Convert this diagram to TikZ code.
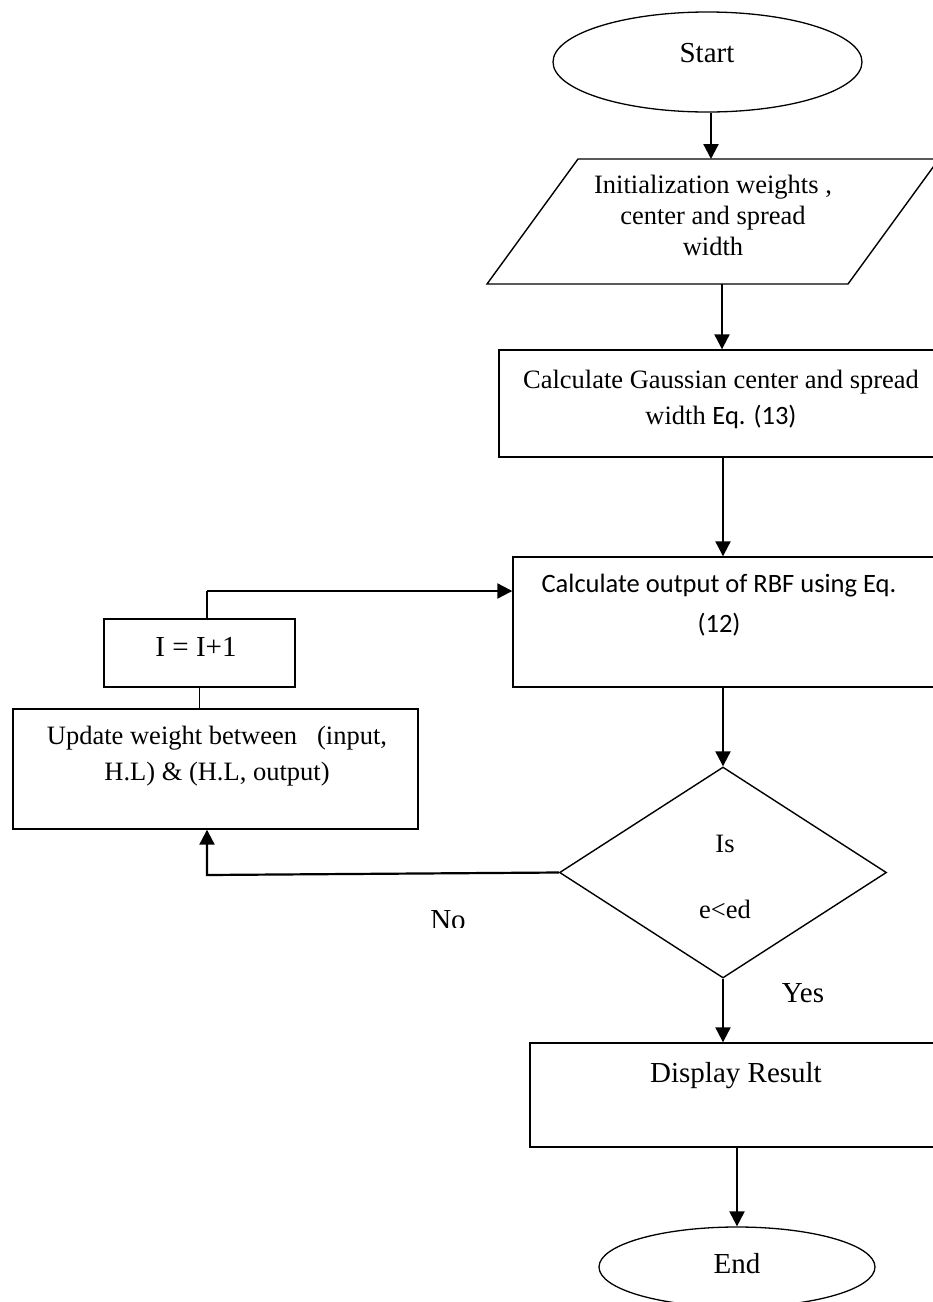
\documentclass[tikz,border=0pt]{standalone}
\usepackage{fontspec}
\setmainfont{Liberation Serif}
\newfontfamily\calibrifont{Carlito}
\usetikzlibrary{arrows.meta,shapes.geometric}
\begin{document}
\begin{tikzpicture}[x=1pt,y=-1pt,
  box/.style={draw,line width=1.4pt,inner sep=0pt},
  oval/.style={draw,ellipse,line width=1.3pt,inner sep=0pt},
  flow/.style={line width=2.2pt,-{Triangle[length=15pt,width=15pt]}},
  link/.style={line width=1.4pt},
  lbl/.style={inner sep=0pt,font=\fontsize{29}{34}\selectfont},
  txt/.style={inner sep=0pt,align=center,font=\fontsize{26.5}{31}\selectfont}]
\useasboundingbox (0,0) rectangle (933,1302);
\clip (0,0) rectangle (933,1302);

% terminals and process boxes
\node[oval,minimum width=309pt,minimum height=100pt] (start) at (707.5,62) {};
\coordinate (pTL) at (578,159);
\coordinate (pTR) at (939,159);
\coordinate (pBR) at (848,284);
\coordinate (pBL) at (487,284);
\draw[line width=1.4pt] (pTL) -- (pTR) -- (pBR) -- (pBL) -- cycle;
\coordinate (pB) at (722,284);
\node[box,minimum width=448pt,minimum height=107pt] (gauss) at (723,403.5) {};
\node[box,minimum width=432pt,minimum height=130pt] (rbf) at (729,622) {};
\node[box,minimum width=191pt,minimum height=68pt] (inc) at (199.5,653) {};
\node[box,minimum width=405pt,minimum height=120pt] (upd) at (215.5,769) {};
\node[box,diamond,minimum width=327pt,minimum height=211pt] (test) at (723,872.5) {};
\node[box,minimum width=414pt,minimum height=104pt] (disp) at (737,1095) {};
\node[oval,minimum width=276pt,minimum height=80pt] (end) at (737,1267) {};

% connectors
\coordinate (noturn) at (207,875);
\coordinate (loopup) at (207,591);
\draw[flow] ([xshift=3.5pt]start.south) -- ([xshift=3.5pt]start.south |- pTL);
\draw[flow] (pB) -- (pB |- gauss.north);
\draw[flow] (gauss.south) -- (gauss.south |- rbf.north);
\draw[flow] (rbf.south -| gauss.south) -- (test.north);
\draw[flow] (test.west) -- (noturn) -- (noturn |- upd.south);
\draw[link] (upd.north -| inc.south) -- (inc.south);
\draw[link] (inc.north -| loopup) -- (loopup);
\draw[flow] (loopup) -- (loopup -| rbf.west);
\draw[flow] (test.south) -- (test.south |- disp.north);
\draw[flow] (disp.south) -- (end.north);

% texts
\node[lbl,anchor=base] (tStart) at (707,62) {Start};
\node[txt] (tInit) at (713,215) {Initialization weights ,\\center and spread\\width};
\node[txt,font=\fontsize{26.5}{36}\selectfont] (tGauss) at (721,399) {Calculate Gaussian center and spread\\width {\calibrifont Eq. (13)}};
\node[txt,font=\calibrifont\fontsize{26.5}{40}\selectfont] (tRbf) at (719,605) {Calculate output of RBF using Eq.\\(12)};
\node[lbl,anchor=base] (tInc) at (196,656) {I = I+1};
\node[txt,font=\fontsize{26.5}{36}\selectfont] (tUpd) at (217,756) {Update weight between\hspace{20pt}(input,\\H.L) \& (H.L, output)};
\node[txt,anchor=base] (tIs) at (725,852) {Is};
\node[txt,anchor=base] (tCmp) at (725,918) {e<ed};
\node[lbl,anchor=base] (tYes) at (803,1002) {Yes};
\node[lbl,anchor=base] (tDisp) at (736,1082) {Display Result};
\node[lbl,anchor=base] (tEnd) at (737,1273) {End};
\begin{scope}
  \clip (0,0) rectangle (933,927);
  \node[lbl,anchor=base] (tNo) at (448,929) {No};
\end{scope}
\end{tikzpicture}
\end{document}
